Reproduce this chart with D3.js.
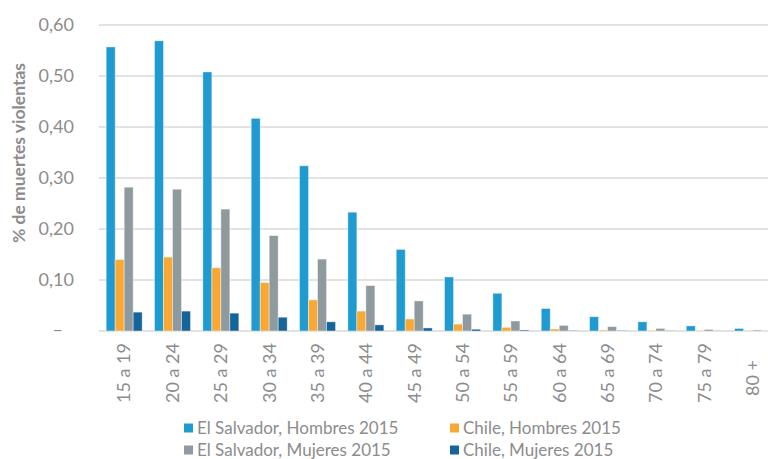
<!DOCTYPE html>
<html>
<head>
<meta charset="utf-8">
<script src="https://cdn.jsdelivr.net/npm/d3@7"></script>
<style>
  body { margin: 0; background: #fff; }
  svg { display: block; font-family: Lato, "Open Sans", sans-serif; }
</style>
</head>
<body>
<div id="chart"></div>
<script>
// Data
const categories = ['15 a 19', '20 a 24', '25 a 29', '30 a 34', '35 a 39', '40 a 44', '45 a 49',
  '50 a 54', '55 a 59', '60 a 64', '65 a 69', '70 a 74', '75 a 79', '80 +']
const seriesNames = ['El Salvador, Hombres 2015', 'Chile, Hombres 2015', 'El Salvador, Mujeres 2015', 'Chile, Mujeres 2015']
const elSalvadorHombres = [0.557, 0.569, 0.508, 0.417, 0.324, 0.233, 0.160, 0.106, 0.074, 0.044, 0.028, 0.018, 0.010, 0.005]
const chileHombres = [0.140, 0.145, 0.124, 0.095, 0.061, 0.039, 0.0235, 0.0135, 0.0072, 0.004, 0.002, 0.001, 0.0005, 0.0002]
const elSalvadorMujeres = [0.282, 0.278, 0.239, 0.187, 0.141, 0.089, 0.059, 0.033, 0.0196, 0.011, 0.0085, 0.005, 0.003, 0.002]
const chileMujeres = [0.037, 0.039, 0.035, 0.027, 0.018, 0.012, 0.006, 0.0035, 0.002, 0.001, 0.001, 0.0005, 0.0003, 0.0001]
const yTicks = [0, 0.1, 0.2, 0.3, 0.4, 0.5, 0.6]

const colors = ['#1f9bd1', '#f9a834', '#8f9a9f', '#15649a']
const allSeries = [elSalvadorHombres, chileHombres, elSalvadorMujeres, chileMujeres]

const width = 768
const height = 459
const textColor = '#8c8c8c'

const svg = d3.select('#chart')
  .append('svg')
  .attr('width', width)
  .attr('height', height)

// Scales
const step = 48.34
const xScale = d3.scaleBand()
  .domain(categories)
  .range([100, 100 + step * categories.length])

const xInner = d3.scaleBand()
  .domain(d3.range(seriesNames.length))
  .range([0, xScale.bandwidth()])
  .paddingOuter(0.686)

const yScale = d3.scaleLinear()
  .domain([0, 0.6])
  .range([331, 25])

// Gridlines
svg.append('g')
  .selectAll('line')
  .data(yTicks)
  .join('line')
  .attr('x1', 99)
  .attr('x2', width)
  .attr('y1', d => yScale(d))
  .attr('y2', d => yScale(d))
  .attr('stroke', '#d9d9d9')
  .attr('stroke-width', 1.3)

// Y axis labels
const fmt = d3.format('.2f')
svg.append('g')
  .selectAll('text')
  .data(yTicks)
  .join('text')
  .attr('x', d => d === 0 ? 63 : 74)
  .attr('y', d => yScale(d))
  .attr('dy', d => d === 0 ? '0.28em' : '0.35em')
  .attr('text-anchor', 'end')
  .attr('fill', textColor)
  .style('font-size', '18px')
  .text(d => d === 0 ? '–' : fmt(d).replace('.', ','))

// Y axis title
svg.append('text')
  .attr('transform', `translate(19, 153) rotate(-90)`)
  .attr('dy', '0.35em')
  .attr('text-anchor', 'middle')
  .attr('fill', textColor)
  .style('font-size', '17.5px')
  .style('font-weight', 'bold')
  .text('% de muertes violentas')

// Bars
const groups = svg.append('g')
  .selectAll('g')
  .data(categories)
  .join('g')
  .attr('transform', d => `translate(${xScale(d)},0)`)

groups.selectAll('rect')
  .data((d, i) => allSeries.map((s, k) => ({ k, v: s[i] })))
  .join('rect')
  .attr('x', d => xInner(d.k))
  .attr('width', xInner.bandwidth())
  .attr('y', d => yScale(d.v))
  .attr('height', d => yScale(0) - yScale(d.v))
  .attr('fill', d => colors[d.k])
  .attr('stroke', '#fff')
  .attr('stroke-opacity', 0.5)
  .attr('stroke-width', 0.8)

// X axis labels
svg.append('g')
  .selectAll('text')
  .data(categories)
  .join('text')
  .attr('transform', d => `translate(${xScale(d) + xScale.bandwidth() / 2}, ${d === '80 +' ? 378 : 373}) rotate(-90)`)
  .attr('dy', '0.35em')
  .attr('text-anchor', 'middle')
  .attr('fill', textColor)
  .style('font-size', '18px')
  .text(d => d)

// Legend
const legendPos = [[184, 428], [450, 428], [184, 450], [450, 450]]
const legend = svg.append('g')
  .selectAll('g')
  .data(seriesNames)
  .join('g')
  .attr('transform', (d, i) => `translate(${legendPos[i][0]}, ${legendPos[i][1]})`)

legend.append('rect')
  .attr('x', 0)
  .attr('y', -4.5)
  .attr('width', 9)
  .attr('height', 9)
  .attr('fill', (d, i) => colors[i])

legend.append('text')
  .attr('x', 13)
  .attr('dy', '0.35em')
  .attr('fill', textColor)
  .style('font-size', '17px')
  .text(d => d)
</script>
</body>
</html>
